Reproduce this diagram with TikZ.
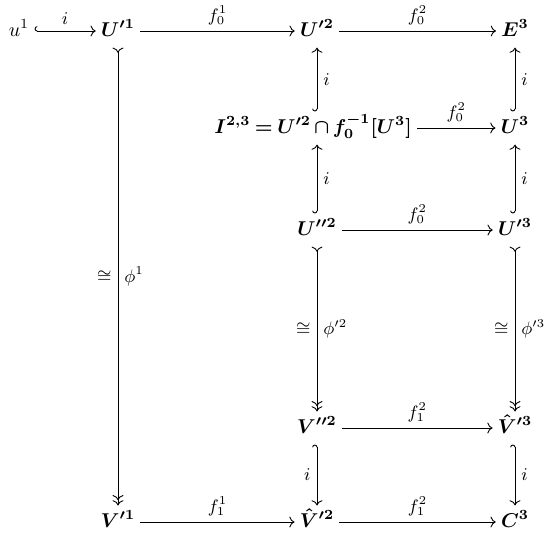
\documentclass[tikz,border=0pt]{standalone}
\usepackage{amsmath,amssymb}
\usetikzlibrary{arrows.meta}
\begin{document}
\begin{tikzpicture}[x=0.5pt,y=-0.5pt,
  obj/.style={inner sep=2.5pt, text height=1.9ex, text depth=0.7ex, font=\boldmath},
  plainobj/.style={inner sep=2.5pt, text height=1.9ex, text depth=0.7ex},
  lab/.style={font=\small, inner sep=3pt},
  ar/.style={-To, line width=0.45pt},
  hookar/.style={{Hooks[right]}-To, line width=0.45pt},
  hookarr/.style={{Hooks[left]}-To, line width=0.45pt},
  bij/.style={{To[reversed]}-{To[]To[]}, line width=0.45pt}]
\useasboundingbox (0,0) rectangle (545,542);
% objects
\node[plainobj] (u1) at (19,31) {$u^1$};
\node[obj] (U1) at (118,31) {$U'^1$};
\node[obj] (U2) at (317,31) {$U'^2$};
\node[obj] (E3) at (515,31) {$E^3$};
\node[obj] (I) at (313,128) {$\thickmuskip=3.5mu\medmuskip=2.5mu I^{2,3} = U'^2 \cap f_0^{-1}[U^3]$};
\node[obj] (U3) at (515,128) {$U^3$};
\node[obj] (W2) at (317,230) {$U''^2$};
\node[obj] (W3) at (515,230) {$U'^3$};
\node[obj] (X2) at (317,428) {$V''^2$};
\node[obj] (X3) at (515,428) {$\hat V'^3$};
\node[obj] (V1) at (118,522) {$V'^1$};
\node[obj] (V2) at (317,522) {$\hat V'^2$};
\node[obj] (C3) at (515,522) {$C^3$};
% row 1
\draw[hookar] (u1) -- node[lab,above] {$i$} (U1);
\draw[ar] (U1) -- node[lab,above] {$f_0^1$} (U2);
\draw[ar] (U2) -- node[lab,above] {$f_0^2$} (E3);
% I row
\draw[hookar] (I.north -| U2) -- node[lab,right] {$i$} (U2);
\draw[hookar] (U3) -- node[lab,right] {$i$} (E3);
\draw[ar] (I) -- node[lab,above] {$f_0^2$} (U3);
% U'' row
\draw[hookar] (W2) -- node[lab,right] {$i$} (I.south -| W2);
\draw[hookar] (W3) -- node[lab,right] {$i$} (U3);
\draw[ar] (W2) -- node[lab,above] {$f_0^2$} (W3);
% bijections
\draw[bij] (U1) -- node[lab,left] {$\cong$} node[lab,right] {$\phi^1$} (V1);
\draw[bij] (W2) -- node[lab,left] {$\cong$} node[lab,right] {$\phi'^2$} (X2);
\draw[bij] (W3) -- node[lab,left] {$\cong$} node[lab,right] {$\phi'^3$} (X3);
% V'' row
\draw[ar] (X2) -- node[lab,above] {$f_1^2$} (X3);
\draw[hookarr] (X2) -- node[lab,left] {$i$} (V2);
\draw[hookarr] (X3) -- node[lab,right] {$i$} (C3);
% bottom row
\draw[ar] (V1) -- node[lab,above] {$f_1^1$} (V2);
\draw[ar] (V2) -- node[lab,above] {$f_1^2$} (C3);
\end{tikzpicture}
\end{document}
